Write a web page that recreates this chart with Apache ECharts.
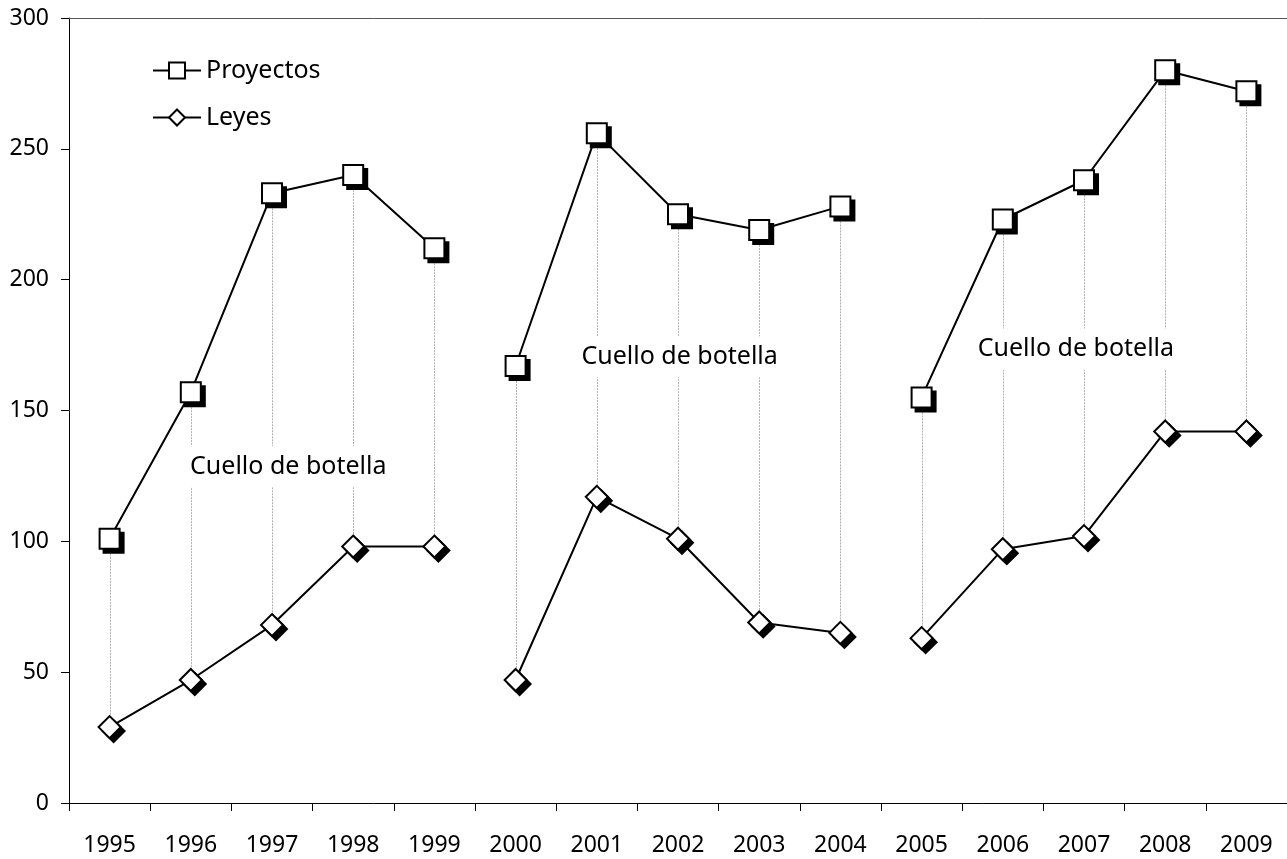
<!DOCTYPE html>
<html>
<head>
<meta charset="utf-8">
<script src="https://cdn.jsdelivr.net/npm/echarts@6/dist/echarts.min.js"></script>
<style>html,body{margin:0;padding:0;background:#fff}#c{width:1287px;height:859px}</style>
</head>
<body>
<div id="c"></div>
<script>
const years = ['1995','1996','1997','1998','1999','2000','2001','2002','2003','2004','2005','2006','2007','2008','2009'];
const proyectos = [101,157,233,240,212,167,256,225,219,228,155,223,238,280,272];
const leyes = [29,47,68,98,98,47,117,101,69,65,63,97,102,142,142];
const segments = [[0,4],[5,9],[10,14]];
const yTicks = {min:0, max:300, interval:50};
const annotationText = 'Cuello de botella';
const annotations = [[2.2,128.5],[7.02,170.5],[11.9,173.5]];

const FONT = '"Noto Sans", sans-serif';
const series = [];
function segData(arr, s){ return arr.map((v,i)=> (i>=s[0] && i<=s[1]) ? v : '-'); }
const markerStyle = {color:'#fff', borderColor:'#000', borderWidth:2};
const shadowStyle = {color:'#000', borderColor:'#000', borderWidth:2};

series.push({
  type:'custom', name:'drop', silent:true, z:1,
  data: years.map((y,i)=>[i, proyectos[i], leyes[i]]),
  renderItem: function(params, api){
    const a = api.coord([api.value(0), api.value(1)]);
    const b = api.coord([api.value(0), api.value(2)]);
    return {type:'line', shape:{x1:Math.round(a[0])+0.5,y1:a[1],x2:Math.round(b[0])+0.5,y2:b[1]}, style:{stroke:'#b0b0b0', lineWidth:1, lineDash:[2,1]}};
  }
});
segments.forEach(s=>{
  series.push({type:'line', name:'Proyectos_sombra', data:segData(proyectos,s), symbol:'rect', symbolSize:20, symbolOffset:[4,4], z:2,
    lineStyle:{opacity:0}, itemStyle:shadowStyle, silent:true});
  series.push({type:'line', name:'Leyes_sombra', data:segData(leyes,s), symbol:'diamond', symbolSize:22, symbolOffset:[4,4], z:2,
    lineStyle:{opacity:0}, itemStyle:shadowStyle, silent:true});
});
segments.forEach(s=>{
  series.push({type:'line', name:'Proyectos', data:segData(proyectos,s), symbol:'rect', symbolSize:20, z:3,
    lineStyle:{color:'#000', width:2}, itemStyle:markerStyle, connectNulls:false});
  series.push({type:'line', name:'Leyes', data:segData(leyes,s), symbol:'diamond', symbolSize:22, z:3,
    lineStyle:{color:'#000', width:2}, itemStyle:markerStyle, connectNulls:false});
});
series.push({
  type:'custom', name:'notas', xAxisIndex:1, yAxisIndex:0, z:5, silent:true,
  data: annotations,
  renderItem: function(params, api){
    const p = api.coord([api.value(0), api.value(1)]);
    return {type:'text', x:p[0], y:p[1], style:{text:annotationText, fill:'#000', font:'25px "Noto Sans", sans-serif',
      align:'center', verticalAlign:'middle', backgroundColor:'#fff', padding:[8,4]}};
  }
});

const chart = echarts.init(document.getElementById('c'), null, {renderer:'canvas'});
chart.setOption({
  animation:false,
  backgroundColor:'#fff',
  grid:{left:69, right:0, top:18, bottom:56, containLabel:false},
  legend:{
    data:['Proyectos','Leyes'], orient:'vertical', left:152, top:58, padding:0,
    itemWidth:48, itemHeight:20, itemGap:22,
    textStyle:{fontFamily:FONT, fontSize:25, color:'#000'}
  },
  xAxis:[
    {type:'category', data:years, boundaryGap:true,
     axisLine:{lineStyle:{color:'#000', width:1}},
     axisTick:{show:true, length:8, lineStyle:{color:'#000'}},
     axisLabel:{fontFamily:FONT, fontSize:23, color:'#000', margin:31, interval:0},
     splitLine:{show:false}},
    {type:'value', min:-0.5, max:14.5, position:'top',
     axisLine:{show:true, onZero:false, lineStyle:{color:'#555', width:1}},
     axisTick:{show:false}, axisLabel:{show:false}, splitLine:{show:false}}
  ],
  yAxis:{type:'value', min:yTicks.min, max:yTicks.max, interval:yTicks.interval,
    axisLine:{show:true, onZero:false, lineStyle:{color:'#000', width:1}},
    axisTick:{show:true, length:8, lineStyle:{color:'#000'}},
    axisLabel:{fontFamily:FONT, fontSize:23, color:'#000', margin:20},
    splitLine:{show:false}},
  series: series
});
</script>
</body>
</html>
